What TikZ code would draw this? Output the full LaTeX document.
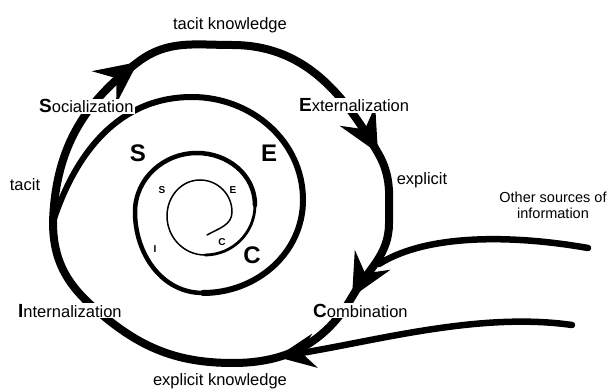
\documentclass[tikz,border=0pt]{standalone}
\usepackage{fontspec}
\setmainfont{Liberation Sans}
\usetikzlibrary{arrows.meta}

\tikzset{
  outerloop/.style={line width=8pt},
  source/.style={line width=6.5pt, line cap=round},
  bigtip/.style={-{Stealth[length=42pt,width=40pt,inset=15pt]}},
  lbl/.style={font=\fontsize{16.5}{19}\selectfont, inner sep=1pt},
  mode/.style={lbl, fill=white},
  bigletter/.style={font=\fontsize{24}{24}\selectfont\bfseries, inner sep=0pt},
  smallletter/.style={font=\fontsize{10}{10}\selectfont\bfseries, inner sep=0pt},
}
\newcommand{\Ini}[1]{{\fontsize{19}{19}\selectfont\bfseries #1}}

\begin{document}
\begin{tikzpicture}[x=1pt,y=1pt]
  \useasboundingbox (0,0) rectangle (609,388);

  % outer loop
  \coordinate (mL) at (53,166);
  \coordinate (sTip) at (138,326);
  \coordinate (top1) at (232,343);
  \coordinate (eTip) at (378,235);
  \coordinate (rgt1) at (389,165);
  \coordinate (cTip) at (352,91);
  \coordinate (bot1) at (233,25);
  \coordinate (int1) at (92,82);

  \draw[outerloop] (mL) to[out=88,in=217] (sTip) to[out=37,in=180] (top1)
    to[out=0,in=120] (eTip) to[out=-60,in=90] (rgt1) to[out=-90,in=60] (cTip)
    to[out=240,in=0] (bot1) to[out=180,in=-42] (int1) to[out=138,in=-90] (mL);

  % arrow heads on the loop
  \coordinate (sBack) at (130,320);
  \coordinate (eBack) at (373,244);
  \coordinate (cBack) at (357,100);
  \draw[outerloop,bigtip] (sBack) -- (sTip);
  \draw[outerloop,bigtip] (eBack) -- (eTip);
  \draw[outerloop,bigtip] (cBack) -- (cTip);

  % inner turns of the spiral
  \coordinate (top2) at (192,291);
  \coordinate (rgt2) at (303,188);
  \coordinate (bot2) at (203,95);
  \coordinate (lft3) at (135,176);
  \coordinate (top3) at (197,235);
  \coordinate (rgt3) at (255,183);
  \coordinate (bot4) at (205,133);
  \coordinate (lft4) at (167,172);
  \coordinate (top4) at (200,208);
  \coordinate (rgt4) at (232,176);
  \coordinate (end4) at (207,153);

  \draw[line width=6pt,line cap=round] (mL) to[out=72,in=180] (top2) to[out=0,in=90] (rgt2) to[out=-90,in=0] (bot2);
  \draw[line width=4.5pt,line cap=round] (bot2) to[out=180,in=-90] (lft3) to[out=90,in=180] (top3) to[out=0,in=90] (rgt3);
  \draw[line width=2.8pt,line cap=round] (rgt3) to[out=-90,in=0] (bot4);
  \draw[line width=1.5pt,line cap=round] (bot4) to[out=180,in=-90] (lft4) to[out=90,in=180] (top4) to[out=0,in=90] (rgt4) to[out=-90,in=30] (end4);

  % other sources
  \coordinate (src1) at (588,140);
  \coordinate (join1) at (379,124);
  \coordinate (src2) at (572,63);
  \coordinate (join2) at (277,31);
  \draw[source] (src1) .. controls (520,152) and (430,156) .. (join1);
  \draw[source,-{Stealth[length=38pt,width=34pt,inset=13pt]}] (src2) .. controls (480,76) and (380,48) .. (join2);

  % labels
  \node[lbl] (tk) at (230,363) {tacit knowledge};
  \node[mode, anchor=base west] (soc) at (38,275) {\Ini{S}ocialization};
  \node[mode, anchor=base west] (ext) at (298,276) {\Ini{E}xternalization};
  \node[lbl] (expl) at (422,208) {explicit};
  \node[lbl, align=center, font=\fontsize{14.5}{16}\selectfont] (other) at (553,183) {Other sources of\\information};
  \node[lbl] (tac) at (25,203) {tacit};
  \node[mode, anchor=base west] (int) at (17,71) {\Ini{I}nternalization};
  \node[mode, anchor=base west] (comb) at (312,71) {\Ini{C}ombination};
  \node[lbl, anchor=base] (ek) at (220,3) {explicit knowledge};

  \node[bigletter] (S1) at (138,235) {S};
  \node[bigletter] (E1) at (269,235) {E};
  \node[bigletter] (C1) at (252,133) {C};
  \node[smallletter] (S2) at (162,198) {S};
  \node[smallletter] (E2) at (233,198) {E};
  \node[smallletter] (C2) at (222,146) {C};
  \node[smallletter] (I2) at (155,139) {I};
\end{tikzpicture}
\end{document}
